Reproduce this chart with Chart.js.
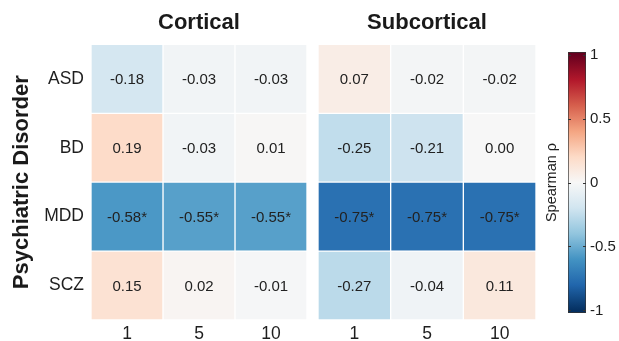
<!DOCTYPE html>
<html>
<head>
<meta charset="utf-8">
<script src="https://cdn.jsdelivr.net/npm/chart.js@4.4.1/dist/chart.umd.min.js"></script>
<style>
  html, body { margin: 0; padding: 0; background: #ffffff; }
  #wrap { position: relative; width: 619px; height: 341px; overflow: hidden; background: #fff; }
  canvas { position: absolute; top: 0; }
</style>
</head>
<body>
<div id="wrap">
  <canvas id="cort" width="312" height="341" style="left:0px"></canvas>
  <canvas id="sub" width="230" height="341" style="left:312px"></canvas>
  <canvas id="cbar" width="77" height="341" style="left:542px"></canvas>
</div>
<script>
// ---------------- DATA ----------------
const columns = ['1', '5', '10'];
const rows = ['ASD', 'BD', 'MDD', 'SCZ'];
const corticalValues = [
  [-0.18, -0.03, -0.03],
  [ 0.19, -0.03,  0.01],
  [-0.58, -0.55, -0.55],
  [ 0.15,  0.02, -0.01]
];
const corticalSig = [
  [false, false, false],
  [false, false, false],
  [true,  true,  true ],
  [false, false, false]
];
const subcorticalValues = [
  [ 0.07, -0.02, -0.02],
  [-0.25, -0.21,  0.00],
  [-0.75, -0.75, -0.75],
  [-0.27, -0.04,  0.11]
];
const subcorticalSig = [
  [false, false, false],
  [false, false, false],
  [true,  true,  true ],
  [false, false, false]
];
const colorbarTicks = [-1, -0.5, 0, 0.5, 1];
const colorbarLimits = [-1.02, 1.02];
const panelTitles = ['Cortical', 'Subcortical'];
const yAxisTitle = 'Psychiatric Disorder';
const colorbarTitle = 'Spearman ρ';

// RdBu colormap stops (value -1 .. 1)
const rdbu = ['#053061','#2166ac','#4393c3','#92c5de','#d1e5f0','#f7f7f7','#fddbc7','#f4a582','#d6604d','#b2182b','#67001f'];

// ---------------- HELPERS ----------------
const FONT = "'Liberation Sans', Arial, Helvetica, sans-serif";
Chart.defaults.font.family = FONT;
Chart.defaults.color = '#1e1e1e';

function hexToRgb(h) {
  const n = parseInt(h.slice(1), 16);
  return [(n >> 16) & 255, (n >> 8) & 255, n & 255];
}
function cmap(v) {
  const t = Math.max(0, Math.min(1, (v + 1) / 2)) * (rdbu.length - 1);
  const i = Math.min(rdbu.length - 2, Math.floor(t));
  const f = t - i;
  const a = hexToRgb(rdbu[i]), b = hexToRgb(rdbu[i + 1]);
  const c = a.map((x, k) => Math.round(x + (b[k] - x) * f));
  return `rgb(${c[0]},${c[1]},${c[2]})`;
}

const cellTextPlugin = {
  id: 'cellText',
  afterDatasetsDraw(chart) {
    const ctx = chart.ctx;
    ctx.save();
    ctx.font = `15px ${FONT}`;
    ctx.fillStyle = '#222222';
    ctx.textAlign = 'center';
    ctx.textBaseline = 'middle';
    chart.data.datasets.forEach((ds, d) => {
      const meta = chart.getDatasetMeta(d);
      meta.data.forEach((bar, r) => {
        const p = bar.getProps(['x', 'y', 'base'], true);
        ctx.fillText(ds.cellText[r], (p.x + p.base) / 2, p.y + 1);
      });
    });
    ctx.restore();
  }
};

function buildHeatmap(canvasId, values, sig, title, showY, padLeft, padRight) {
  const datasets = columns.map((c, ci) => ({
    label: c,
    data: rows.map(() => [ci, ci + 1]),
    backgroundColor: rows.map((r, ri) => cmap(values[ri][ci])),
    borderColor: '#ffffff',
    borderWidth: 1,
    borderSkipped: false,
    grouped: false,
    barPercentage: 1,
    categoryPercentage: 1,
    cellText: rows.map((r, ri) => values[ri][ci].toFixed(2) + (sig[ri][ci] ? '*' : ''))
  }));
  return new Chart(document.getElementById(canvasId), {
    type: 'bar',
    data: { labels: rows, datasets },
    options: {
      indexAxis: 'y',
      responsive: false,
      animation: false,
      devicePixelRatio: 1,
      layout: { padding: { left: padLeft, right: padRight, top: 0, bottom: 0 } },
      plugins: {
        legend: { display: false },
        tooltip: { enabled: false },
        title: {
          display: true,
          text: title,
          fullSize: false,
          font: { size: 22, weight: 'bold' },
          color: '#1a1a1a',
          padding: { top: 10, bottom: 8 }
        }
      },
      scales: {
        x: {
          type: 'linear',
          min: 0, max: columns.length,
          grid: { display: false, drawTicks: false },
          border: { display: false },
          afterBuildTicks: (s) => { s.ticks = columns.map((c, i) => ({ value: i + 0.5 })); },
          ticks: {
            autoSkip: false,
            maxRotation: 0,
            padding: 4,
            font: { size: 17.5 },
            color: '#1e1e1e',
            callback: (v, i) => columns[i]
          },
          afterFit: (s) => { s.height = 21; }
        },
        y: {
          type: 'category',
          display: showY,
          grid: { display: false, drawTicks: false },
          border: { display: false },
          ticks: { padding: 7, font: { size: 17.5 }, color: '#1e1e1e' },
          title: {
            display: showY,
            text: yAxisTitle,
            font: { size: 22, weight: 'bold' },
            color: '#1a1a1a',
            padding: { top: 9, bottom: 0 }
          },
          afterFit: (s) => { if (showY) s.width = 91; }
        }
      }
    },
    plugins: [cellTextPlugin]
  });
}

buildHeatmap('cort', corticalValues, corticalSig, panelTitles[0], true, 0, 5);
buildHeatmap('sub', subcorticalValues, subcorticalSig, panelTitles[1], false, 6, 6);

// ---------------- COLORBAR ----------------
const cbarTickPlugin = {
  id: 'cbarTicks',
  afterDatasetsDraw(chart) {
    const ctx = chart.ctx;
    const s = chart.scales.y2;
    const a = chart.chartArea;
    ctx.save();
    ctx.strokeStyle = '#333333';
    ctx.lineWidth = 1;
    colorbarTicks.forEach(v => {
      const y = Math.round(s.getPixelForValue(v)) + 0.5;
      ctx.beginPath();
      ctx.moveTo(a.left, y); ctx.lineTo(a.left + 3, y);
      ctx.moveTo(a.right - 3, y); ctx.lineTo(a.right, y);
      ctx.stroke();
    });
    ctx.restore();
  }
};

new Chart(document.getElementById('cbar'), {
  type: 'bar',
  data: {
    labels: [''],
    datasets: [{
      data: [[colorbarLimits[0], colorbarLimits[1]]],
      backgroundColor: (c) => {
        const chart = c.chart;
        if (!chart.chartArea) return '#fff';
        const s = chart.scales.y;
        const g = chart.ctx.createLinearGradient(0, s.getPixelForValue(-1), 0, s.getPixelForValue(1));
        rdbu.forEach((col, i) => g.addColorStop(i / (rdbu.length - 1), col));
        return g;
      },
      borderColor: '#333333',
      borderWidth: 1,
      borderSkipped: false,
      barPercentage: 1,
      categoryPercentage: 1
    }]
  },
  options: {
    responsive: false,
    animation: false,
    devicePixelRatio: 1,
    layout: { padding: { top: 52, bottom: 28, left: 0, right: 0 } },
    plugins: { legend: { display: false }, tooltip: { enabled: false } },
    scales: {
      x: { display: false },
      y: {
        position: 'left',
        min: colorbarLimits[0], max: colorbarLimits[1],
        grid: { display: false, drawTicks: false },
        border: { display: false },
        ticks: { display: false },
        title: {
          display: true,
          text: colorbarTitle,
          font: { size: 14.5 },
          color: '#1e1e1e',
          padding: { top: 1, bottom: 0 }
        },
        afterFit: (s) => { s.width = 26; }
      },
      y2: {
        position: 'right',
        min: colorbarLimits[0], max: colorbarLimits[1],
        grid: { display: false, drawTicks: false },
        border: { display: false },
        afterBuildTicks: (s) => { s.ticks = colorbarTicks.map(v => ({ value: v })); },
        ticks: {
          padding: 4,
          font: { size: 15 },
          color: '#1e1e1e',
          callback: (v) => String(v)
        },
        afterFit: (s) => { s.width = 33; }
      }
    }
  },
  plugins: [cbarTickPlugin]
});
</script>
</body>
</html>
